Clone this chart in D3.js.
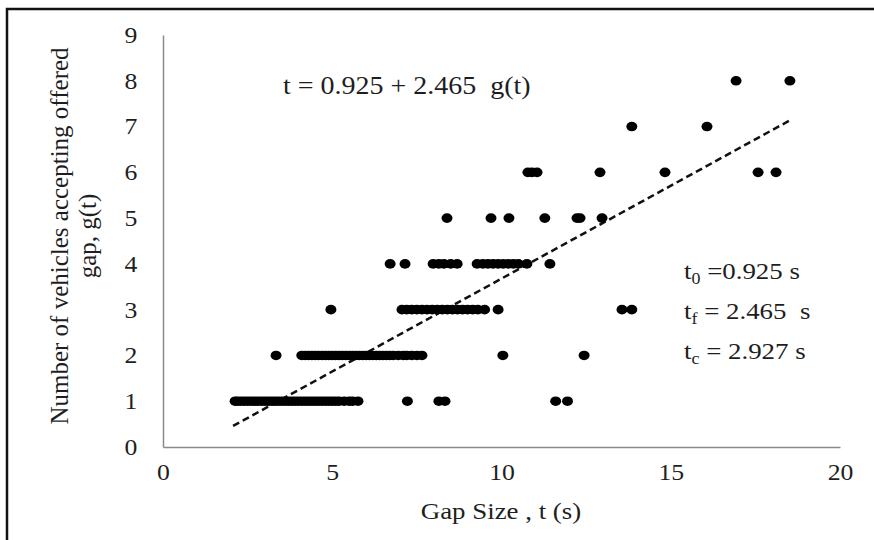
<!DOCTYPE html>
<meta charset="utf-8">
<style>
body { margin: 0; background: #fff; }
text { font-family: "Liberation Serif", "Times New Roman", serif; fill: #1e1e1e; white-space: pre; }
.axis path { stroke: #8a8a8a; stroke-width: 1.5px; }
.axis line { display: none; }
.axis text { font-size: 23px; }
.trend { fill: none; stroke: #111; stroke-width: 2.5px; stroke-dasharray: 7 4; }
</style>
<svg width="874" height="540"></svg>
<script src="https://d3js.org/d3.v7.min.js"></script>
<script>

// accepted gaps (s) grouped by number of vehicles accepting them
const gaps1 = [2.13, 2.2, 2.3, 2.4, 2.5, 2.6, 2.7, 2.8, 2.9, 3.0, 3.1, 3.2, 3.3, 3.4, 3.5, 3.6, 3.7, 3.8, 3.9,
  4.0, 4.1, 4.2, 4.3, 4.4, 4.5, 4.6, 4.7, 4.8, 4.9, 5.0, 5.1, 5.2, 5.35, 5.5, 5.6, 5.76, 7.22, 8.15, 8.33, 11.6, 11.95];
const gaps2 = [3.34, 4.1, 4.2, 4.3, 4.4, 4.5, 4.6, 4.7, 4.8, 4.9, 5.0, 5.1, 5.2, 5.3, 5.4, 5.5, 5.6, 5.7, 5.8,
  5.9, 6.0, 6.1, 6.2, 6.3, 6.4, 6.5, 6.6, 6.7, 6.8, 6.95, 7.1, 7.2, 7.35, 7.5, 7.65, 10.04, 12.44];
const gaps3 = [4.96, 7.06, 7.2, 7.35, 7.5, 7.65, 7.8, 7.95, 8.1, 8.25, 8.4, 8.55, 8.7, 8.85, 9.0, 9.15, 9.3, 9.5, 9.9, 13.56, 13.85];
const gaps4 = [6.71, 7.15, 7.98, 8.15, 8.3, 8.5, 8.69, 9.28, 9.45, 9.6, 9.75, 9.9, 10.05, 10.2, 10.35, 10.5, 10.75, 11.43];
const gaps5 = [8.39, 9.69, 10.22, 11.28, 12.23, 12.32, 12.97];
const gaps6 = [10.78, 10.9, 11.05, 12.91, 14.83, 17.58, 18.11];
const gaps7 = [13.85, 16.07];
const gaps8 = [16.93, 18.52];
const vehicleCounts = [1, 2, 3, 4, 5, 6, 7, 8];

// fitted line t = 0.925 + 2.465 g(t), drawn between its end points
const trendT = [2.07, 18.58];
const trendG = [0.46, 7.16];

const xTicks = [0, 5, 10, 15, 20];
const yTicks = [0, 1, 2, 3, 4, 5, 6, 7, 8, 9];

const points = [];
[gaps1, gaps2, gaps3, gaps4, gaps5, gaps6, gaps7, gaps8].forEach((arr, i) => {
  arr.forEach(t => points.push({t: t, g: vehicleCounts[i]}));
});

const svg = d3.select("svg");
const stretch = 1.12; // the reference text is a little wide

// outer frame
svg.append("rect")
    .attr("x", 7).attr("y", 9)
    .attr("width", 880).attr("height", 560)
    .attr("fill", "none").attr("stroke", "#111").attr("stroke-width", 2.5);

const xScale = d3.scaleLinear().domain([0, 20]).range([163, 840]);
const yScale = d3.scaleLinear().domain([0, 9]).range([447, 35]);

svg.append("g")
    .attr("class", "axis")
    .attr("transform", "translate(0,447)")
    .call(d3.axisBottom(xScale).tickValues(xTicks).tickSize(0).tickSizeOuter(0))
    .call(g => g.selectAll("text").attr("dy", "0.32em").attr("y", 26)
      .attr("transform", `scale(${stretch},1)`));

svg.append("g")
    .attr("class", "axis")
    .attr("transform", "translate(163,0)")
    .call(d3.axisLeft(yScale).tickValues(yTicks).tickSize(0).tickSizeOuter(0))
    .call(g => g.selectAll("text").attr("x", -23)
      .attr("transform", `scale(${stretch},1)`));

svg.selectAll(".axis text").attr("font-family", null).attr("font-size", null).attr("fill", "#1e1e1e");

function label(x, y, size) {
  return svg.append("text")
      .attr("transform", `translate(${x},${y}) scale(${stretch},1)`)
      .style("font-size", size + "px");
}

label(501, 519, 24).attr("text-anchor", "middle").text("Gap Size , t (s)");

const yLab = svg.append("text")
    .attr("transform", "translate(0,236) rotate(-90)")
    .attr("text-anchor", "middle")
    .style("font-size", "25px");
yLab.append("tspan").attr("x", 0).attr("y", 68).text("Number of vehicles accepting offered");
yLab.append("tspan").attr("x", 0).attr("y", 96).text("gap, g(t)");

svg.append("path")
    .attr("class", "trend")
    .attr("d", d3.line().x(d => xScale(d[0])).y(d => yScale(d[1]))(d3.zip(trendT, trendG)));

svg.append("g")
  .selectAll("ellipse")
  .data(points)
  .join("ellipse")
    .attr("cx", d => xScale(d.t))
    .attr("cy", d => yScale(d.g))
    .attr("rx", 5.5)
    .attr("ry", 4.8)
    .attr("fill", "#000");

label(283, 94, 25).text("t = 0.925 + 2.465  g(t)");

const notes = [["0", " =0.925 s", 279], ["f", " = 2.465  s", 319], ["c", " = 2.927 s", 359]];
notes.forEach(n => {
  const t = label(684, n[2], 24);
  t.append("tspan").text("t");
  t.append("tspan").attr("dy", 5).style("font-size", "16px").text(n[0]);
  t.append("tspan").attr("dy", -5).text(n[1]);
});

</script>
